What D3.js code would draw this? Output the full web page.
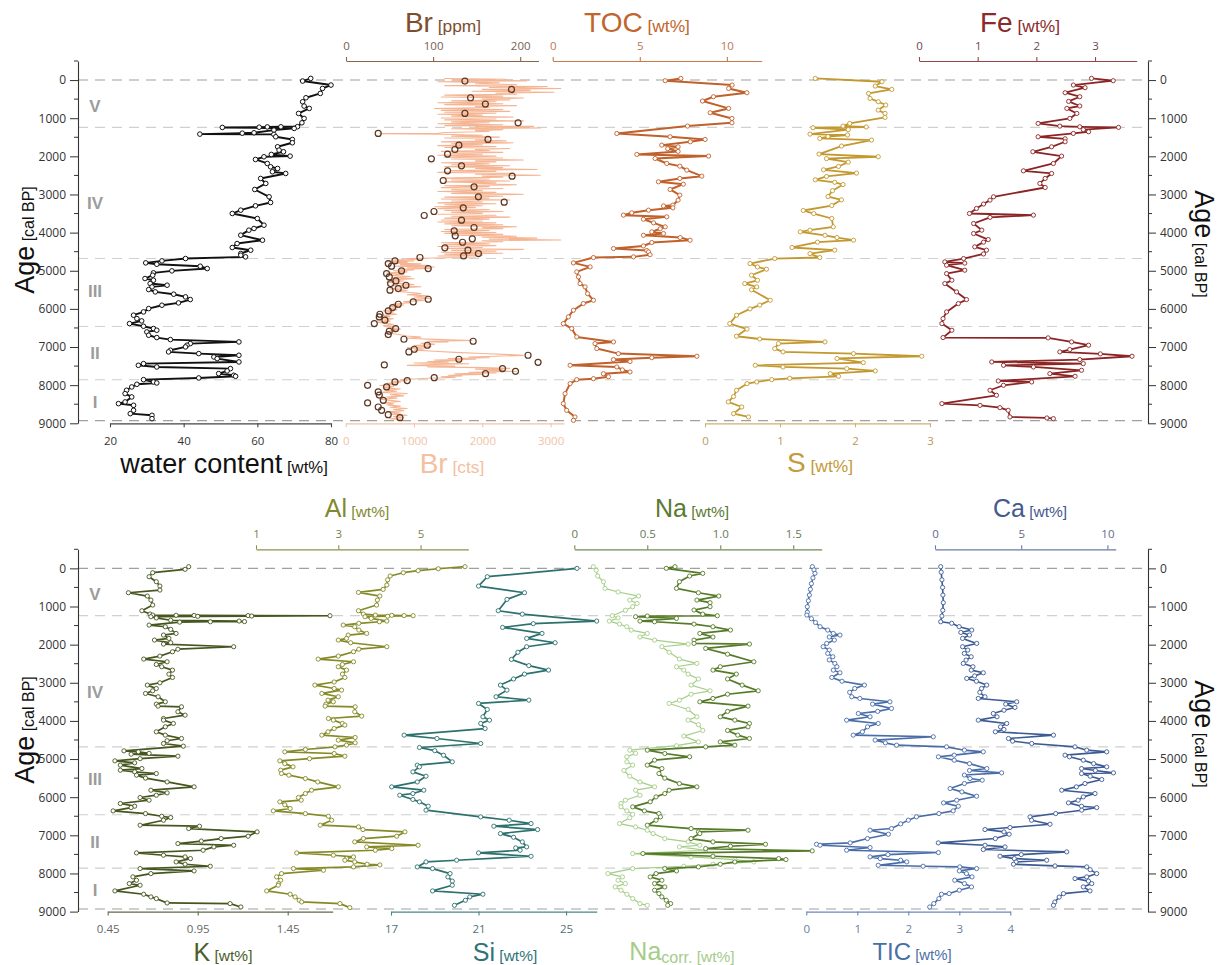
<!DOCTYPE html>
<html>
<head>
<meta charset="utf-8">
<script src="https://cdn.jsdelivr.net/npm/d3@7"></script>
<style>
  body { margin: 0; background: #fff; }
  svg { display: block; font-family: "Liberation Sans", Arial, sans-serif; }
</style>
</head>
<body>
<svg id="chart" width="1224" height="965"></svg>
<script>
// ---------- age framework ----------
const ageTicks = [0, 1000, 2000, 3000, 4000, 5000, 6000, 7000, 8000, 9000];
const ageMinorTicks = [-500, 500, 1500, 2500, 3500, 4500, 5500, 6500, 7500, 8500];
const boundaryAges = [0, 1240, 4680, 6460, 7860, 8930];
const zoneLabels = ["V", "IV", "III", "II", "I"];
const zoneMidAges = [680, 3230, 5530, 7165, 8440];

// ---------- upper panel series: [age cal BP, value] ----------
const waterContent = [
  [-44,74.5],[26,72.3],[131,80.0],[219,77.7],[350,77.1],[464,73.2],[569,72.3],[682,72.7],[743,74.1],[875,71.2],
  [1006,72.7],[1120,72.1],[1222,70.9],[1226,66.4],[1229,62.7],[1236,60.5],[1242,50.5],[1268,70.0],[1312,64.5],
  [1382,59.1],[1392,55.9],[1417,44.4],[1425,64.5],[1487,65.0],[1557,69.5],[1644,69.5],[1749,65.5],[1837,65.9],
  [1880,67.1],[1950,63.8],[1994,68.9],[2012,61.8],[2082,59.5],[2187,62.7],[2274,63.6],[2318,65.5],[2405,64.1],
  [2449,67.7],[2580,60.9],[2711,62.3],[2869,59.3],[3061,63.2],[3210,63.6],[3297,59.5],[3411,55.5],[3499,53.2],
  [3630,60.0],[3805,61.8],[3892,59.1],[3936,57.7],[4067,55.5],[4199,61.4],[4286,54.5],[4391,53.2],[4461,58.2],
  [4548,55.5],[4592,55.5],[4636,56.8],[4680,40.5],[4741,34.1],[4793,29.7],[4829,32.7],[4881,44.5],[4942,46.4],
  [5003,36.8],[5055,31.8],[5117,31.6],[5204,29.5],[5248,31.8],[5335,30.9],[5379,35.5],[5423,31.4],[5493,30.5],
  [5554,32.3],[5615,37.3],[5685,40.5],[5755,41.8],[5843,38.6],[5904,34.1],[5992,30.5],[6079,29.1],[6166,26.4],
  [6254,27.3],[6315,28.6],[6385,25.3],[6455,29.1],[6516,31.8],[6560,32.7],[6604,30.0],[6691,30.5],[6752,32.7],
  [6805,36.4],[6866,55.0],[6910,41.8],[6953,40.9],[6997,40.5],[7084,36.4],[7128,35.9],[7172,44.1],[7216,55.0],
  [7260,48.2],[7304,49.1],[7391,55.0],[7435,29.1],[7479,27.7],[7523,32.7],[7566,52.7],[7627,51.8],[7697,49.5],
  [7741,53.6],[7767,54.1],[7811,44.1],[7855,29.1],[7916,31.8],[7942,32.7],[7977,27.3],[8047,25.9],[8134,24.5],
  [8222,24.1],[8309,25.9],[8440,24.1],[8484,22.3],[8528,26.4],[8659,26.4],[8747,25.5],[8790,31.4],[8878,31.4]
];

const brPpm = [
  [26,136.5],[245,190],[463,143],[629,160],[874,136.5],[1120,197.6],[1400,37],[1557,163],[1706,129.6],[1820,125],
  [1941,116.6],[2064,98],[2248,132.6],[2379,116.6],[2519,190.7],[2633,111.6],[2799,147],[3061,152],[3201,181.6],
  [3350,134.6],[3446,101],[3551,89.8],[3674,132.6],[3866,147],[3954,124.2],[4085,125.4],[4164,145],[4252,133.8],
  [4400,113.5],[4461,140],[4549,152],[4610,135],[4653,84.9],[4741,56.2],[4811,48.5],[4881,52.3],[4942,94.4],
  [5003,63.8],[5074,46.6],[5161,49.7],[5266,57.3],[5336,51.2],[5380,68.8],[5467,60],[5510,50.5],[5747,94.4],
  [5817,77.2],[5878,60],[5966,53.5],[6053,48.5],[6140,38.9],[6210,38.2],[6297,44.7],[6385,32.5],[6516,57],
  [6586,49.7],[6673,48.5],[6796,66.5],[6848,146],[6953,93.3],[7058,78.4],[7128,72.2],[7216,209],[7321,129.6],
  [7400,220.5],[7470,44],[7566,179.7],[7636,194.6],[7698,160.2],[7803,101.3],[7881,70.3],[7916,56.2],[8003,24.8],
  [8047,46.6],[8178,37],[8260,38.2],[8397,42.8],[8467,24.8],[8572,37],[8659,40.9],[8773,48.5],[8852,61.9]
];

const brCts = [
  [-40,1450],[-20,2350],[0,1550],[20,2650],[45,1350],[70,2250],[95,1900],[120,2500],[145,1450],[170,2950],
  [195,2100],[220,3150],[245,2000],[270,2700],[295,1850],[320,3050],[345,2200],[370,2500],[395,1450],[420,2300],
  [445,1400],[470,2600],[495,2000],[520,2400],[545,1550],[570,2200],[595,1350],[620,2300],[645,1450],[670,2500],
  [695,1900],[720,2100],[745,1300],[770,2300],[795,1400],[820,2400],[845,1450],[870,2200],[895,1350],[920,2000],
  [945,1550],[970,2450],[995,1400],[1020,2200],[1045,1450],[1070,2600],[1095,1550],[1120,2100],[1145,1350],
  [1170,2300],[1195,1450],[1215,2750],[1235,1900],[1255,2850],[1275,1550],[1300,2300],[1325,1900],[1350,2100],
  [1375,1450],[1395,1350],[1405,500],[1420,1400],[1445,2000],[1470,1550],[1495,2250],[1520,1450],[1545,2100],
  [1570,1900],[1595,2350],[1620,1400],[1645,2450],[1670,1550],[1695,2000],[1720,1350],[1745,2200],[1770,1450],
  [1795,2400],[1820,1900],[1845,2100],[1870,1400],[1895,2300],[1920,1550],[1945,2000],[1970,1350],[1995,2200],
  [2020,1450],[2045,2300],[2070,1550],[2095,2600],[2120,1900],[2145,2200],[2170,1400],[2195,2100],[2220,1550],
  [2245,2400],[2270,1450],[2295,2300],[2320,1900],[2345,2800],[2370,1550],[2395,2200],[2420,1350],[2445,2400],
  [2470,1900],[2495,2850],[2520,2000],[2545,2300],[2570,1400],[2595,2100],[2620,1550],[2645,2400],[2670,1450],
  [2695,2200],[2720,1900],[2745,2500],[2770,1450],[2795,2100],[2820,1400],[2845,2300],[2870,1550],[2895,2000],
  [2920,1350],[2945,2200],[2970,1550],[2995,2600],[3020,1900],[3045,2300],[3070,1450],[3095,2100],[3120,1400],
  [3145,2400],[3170,1550],[3195,2000],[3220,1350],[3245,2200],[3270,1450],[3295,2000],[3320,1300],[3345,1900],
  [3370,1350],[3395,2100],[3420,1450],[3445,2300],[3470,1550],[3495,2000],[3520,1350],[3545,2200],[3570,1550],
  [3595,2400],[3620,1450],[3645,2100],[3670,1400],[3695,2000],[3720,1350],[3745,2200],[3770,1450],[3795,2300],
  [3820,1550],[3845,2500],[3870,2000],[3895,2300],[3920,1450],[3945,2100],[3970,1400],[3995,2200],[4020,1450],
  [4045,2300],[4070,1550],[4095,2500],[4120,2000],[4145,2800],[4170,2100],[4195,3150],[4215,2000],[4240,2300],
  [4265,1400],[4290,2100],[4315,1450],[4340,2200],[4365,1350],[4390,2000],[4415,1450],[4440,2600],[4465,1550],
  [4490,2200],[4515,1400],[4540,2300],[4565,1450],[4590,2000],[4615,1350],[4640,1900],
  [4660,1500],[4680,900],[4700,1100],[4720,700],[4740,1000],[4760,600],[4780,900],[4800,700],[4820,1100],
  [4840,800],[4860,1200],[4880,700],[4900,1300],[4920,900],[4940,1250],[4960,800],[4980,1000],[5000,700],
  [5030,900],[5060,600],[5090,850],[5120,650],[5150,950],[5180,700],[5210,1000],[5240,650],[5270,850],[5300,600],
  [5330,800],[5360,1000],[5390,700],[5420,1100],[5450,800],[5480,650],[5510,900],[5540,750],[5570,950],[5600,1100],
  [5630,900],[5660,1200],[5690,1000],[5720,1250],[5750,1000],[5780,1150],[5810,850],[5840,950],[5870,700],
  [5900,850],[5930,650],[5960,800],[5990,600],[6020,750],[6050,550],[6080,700],[6110,600],[6140,750],[6170,550],
  [6200,650],[6230,500],[6260,700],[6290,550],[6320,650],[6350,450],[6380,600],[6410,700],[6440,550],[6470,750],
  [6500,600],[6530,800],[6560,650],[6590,750],[6620,600],[6650,700],[6680,800],[6710,900],[6740,1100],[6770,900],
  [6800,1300],[6830,1850],[6850,1200],[6870,1500],[6900,1100],[6930,1300],[6960,1000],[6990,1250],[7020,900],
  [7050,1150],[7080,1000],[7110,1300],[7140,1600],[7170,2000],[7200,2400],[7220,2600],[7240,2200],[7260,1800],
  [7280,2100],[7300,1500],[7320,1900],[7340,1300],[7360,1700],[7380,1200],[7400,1500],[7420,1000],[7440,1800],
  [7460,1300],[7480,900],[7500,1600],[7520,1200],[7540,2000],[7560,2400],[7580,1900],[7600,2300],[7620,2100],
  [7640,2500],[7660,1800],[7680,2200],[7700,1600],[7720,2000],[7740,1500],[7760,1700],[7780,1400],[7800,1600],
  [7820,1200],[7840,1000],[7860,800],[7880,900],[7900,700],[7920,800],[7950,600],[7980,750],[8010,500],[8040,700],
  [8070,550],[8100,800],[8130,600],[8160,750],[8190,500],[8220,900],[8250,650],[8280,850],[8310,600],[8340,750],
  [8370,500],[8400,650],[8430,800],[8460,550],[8490,700],[8520,600],[8550,800],[8580,650],[8610,900],[8640,700],
  [8670,850],[8700,600],[8730,800],[8760,650],[8790,900],[8820,700],[8850,850],[8880,650],[8900,800]
];

const toc = [
  [-44,7.36],[17,6.46],[131,10.3],[219,10.1],[332,11.15],[437,9.23],[550,8.6],[743,10.1],[857,9.04],[1006,10.29],
  [1120,10.29],[1207,7.74],[1400,3.68],[1487,6.74],[1557,8.75],[1618,7.9],[1706,6.26],[1750,7.2],[1800,6.6],
  [1870,7.2],[1950,4.83],[1994,8.95],[2056,5.88],[2187,6.55],[2257,7.3],[2362,7.7],[2519,8.56],[2580,7.3],
  [2668,6.07],[2730,7.5],[2869,6.74],[3017,7.3],[3148,7.2],[3280,6.9],[3300,6.36],[3350,6.9],[3411,5.5],
  [3481,4.54],[3542,4.06],[3586,6.55],[3650,5.21],[3744,5.79],[3849,6.46],[3900,6.17],[3980,5.69],[4024,6.36],
  [4070,5.21],[4130,7.32],[4199,7.89],[4260,5.69],[4350,5.21],[4417,3.49],[4470,5.4],[4505,5.5],[4580,5.59],
  [4636,4.64],[4653,2.34],[4794,1.19],[4899,2.15],[5030,1.38],[5161,1.48],[5336,1.57],[5423,1.86],[5600,2.0],
  [5773,2.34],[5860,1.76],[6035,1.19],[6210,0.9],[6385,0.61],[6516,1.09],[6735,1.38],[6866,3.49],[6910,2.43],
  [7041,2.53],[7173,3.77],[7242,8.28],[7280,5.69],[7330,3.49],[7380,4.44],[7479,1.0],[7523,3.68],[7600,4.0],
  [7654,4.44],[7700,2.91],[7780,3.2],[7829,2.34],[7855,1.38],[7960,1.0],[8222,0.71],[8484,0.61],[8659,0.8],
  [8834,1.28],[8922,1.19]
];

const sulfur = [
  [-44,1.47],[44,2.36],[157,2.27],[245,2.49],[350,2.18],[481,2.2],[568,2.31],[655,2.41],[787,2.31],[875,2.4],
  [979,2.4],[1137,1.93],[1207,1.84],[1230,2.15],[1250,1.44],[1300,1.91],[1417,1.4],[1440,1.9],[1480,1.64],
  [1531,1.53],[1574,2.22],[1731,1.82],[1941,1.52],[2011,2.31],[2060,1.62],[2152,1.91],[2266,1.78],[2353,1.58],
  [2440,2.02],[2528,1.62],[2615,1.47],[2680,1.73],[2740,1.84],[2900,1.7],[3054,1.64],[3140,1.82],[3290,1.69],
  [3420,1.31],[3500,1.45],[3630,1.69],[3849,1.71],[3936,1.4],[3980,1.27],[4070,1.6],[4130,1.76],[4199,1.98],
  [4250,1.5],[4390,1.16],[4460,1.73],[4550,1.4],[4653,1.53],[4680,0.93],[4811,0.6],[4900,0.7],[4960,0.82],
  [5117,0.62],[5250,0.7],[5336,0.53],[5423,0.69],[5500,0.62],[5773,0.87],[5900,0.73],[6000,0.6],[6166,0.42],
  [6385,0.33],[6530,0.56],[6717,0.42],[6790,0.73],[6866,1.6],[6910,0.98],[7041,0.93],[7128,1.04],[7173,1.98],
  [7242,2.89],[7300,1.76],[7409,2.11],[7479,0.67],[7523,1.04],[7566,1.89],[7627,2.27],[7698,1.67],[7767,1.78],
  [7820,1.13],[7855,0.89],[7916,0.69],[7960,0.56],[8134,0.42],[8300,0.38],[8440,0.31],[8572,0.49],[8747,0.38],
  [8834,0.58]
];

const iron = [
  [-44,2.94],[17,3.31],[131,2.63],[200,2.83],[332,2.49],[437,2.74],[560,2.55],[680,2.74],[743,2.52],[875,2.69],
  [1006,2.57],[1137,2.03],[1207,2.4],[1225,2.74],[1241,3.4],[1300,2.8],[1355,2.89],[1400,2.63],[1487,2.03],
  [1540,2.49],[1618,2.49],[1750,2.26],[1880,1.94],[1994,2.43],[2187,2.29],[2380,1.78],[2449,2.26],[2580,2.15],
  [2711,2.06],[2817,2.15],[3061,1.27],[3148,1.21],[3250,1.1],[3367,0.98],[3499,0.86],[3542,1.95],[3600,1.21],
  [3761,0.93],[3936,1.07],[4024,0.93],[4182,1.18],[4250,1.1],[4374,0.95],[4460,1.15],[4560,1.1],[4680,0.76],
  [4767,0.44],[4800,0.78],[4855,0.47],[4986,0.78],[5074,0.47],[5249,0.56],[5336,0.44],[5555,0.64],[5756,0.81],
  [5860,0.67],[6079,0.47],[6254,0.41],[6385,0.39],[6560,0.56],[6752,0.41],[6760,2.2],[6866,2.6],[6953,2.89],
  [7067,2.57],[7128,2.4],[7180,3.09],[7242,3.63],[7330,2.74],[7391,1.24],[7435,2.8],[7479,1.44],[7523,1.95],
  [7610,2.77],[7698,2.23],[7767,2.66],[7890,1.35],[7916,1.92],[8003,1.44],[8134,1.21],[8265,1.32],[8484,0.39],
  [8530,1.04],[8590,1.38],[8659,1.52],[8834,1.55],[8860,2.18],[8878,2.29]
];

// ---------- lower panel series: [age cal BP, value] ----------
const potassium = [
  [-44,0.90],[26,0.88],[114,0.70],[219,0.68],[350,0.72],[464,0.74],[569,0.74],[639,0.565],[726,0.67],[831,0.69],
  [962,0.70],[1111,0.64],[1198,0.685],[1225,0.70],[1230,0.83],[1234,0.93],[1238,1.23],[1242,1.685],[1250,1.25],
  [1258,0.95],[1268,0.69],[1300,0.72],[1360,0.80],[1382,1.18],[1395,1.21],[1400,1.02],[1410,0.85],[1487,0.68],
  [1531,0.77],[1600,0.80],[1706,0.83],[1749,0.76],[1837,0.79],[1880,0.71],[1950,0.80],[1985,0.76],[2055,1.15],
  [2120,0.84],[2187,0.81],[2300,0.74],[2379,0.65],[2449,0.78],[2520,0.72],[2580,0.75],[2668,0.81],[2773,0.79],
  [2860,0.81],[3000,0.74],[3061,0.67],[3150,0.72],[3210,0.70],[3280,0.66],[3367,0.73],[3499,0.77],[3560,0.72],
  [3612,0.73],[3630,0.86],[3760,0.84],[3849,0.88],[3936,0.76],[3980,0.76],[4067,0.815],[4155,0.77],[4286,0.72],
  [4373,0.77],[4461,0.86],[4520,0.78],[4592,0.76],[4662,0.87],[4785,0.54],[4811,0.62],[4850,0.68],[4872,0.58],
  [4925,0.84],[4990,0.63],[5047,0.49],[5099,0.60],[5160,0.52],[5249,0.64],[5292,0.52],[5336,0.60],[5380,0.72],
  [5423,0.61],[5500,0.66],[5600,0.78],[5729,0.93],[5817,0.69],[5887,0.78],[5948,0.72],[6009,0.63],[6079,0.68],
  [6166,0.52],[6236,0.60],[6272,0.58],[6359,0.48],[6430,0.66],[6499,0.75],[6534,0.80],[6604,0.76],[6735,0.63],
  [6761,0.96],[6822,0.90],[6910,1.28],[7023,1.23],[7085,1.08],[7150,0.97],[7216,0.84],[7260,1.15],[7304,1.04],
  [7391,0.98],[7461,0.61],[7522,0.76],[7566,0.88],[7610,0.91],[7697,0.83],[7758,0.88],[7811,1.02],[7872,0.63],
  [7933,0.93],[8003,0.69],[8090,0.59],[8178,0.61],[8265,0.57],[8309,0.63],[8458,0.49],[8545,0.65],[8615,0.69],
  [8659,0.72],[8773,0.78],[8790,1.13],[8878,1.19]
];

const aluminium = [
  [-44,6.08],[10,5.43],[60,4.94],[114,4.58],[201,4.26],[300,4.2],[437,4.18],[551,4.09],[630,3.49],[726,4.01],
  [831,3.95],[962,3.93],[1111,3.49],[1198,3.61],[1225,3.9],[1232,4.3],[1238,4.6],[1242,4.82],[1255,4.2],
  [1268,3.65],[1312,3.8],[1382,4.18],[1400,4.0],[1440,3.5],[1487,3.12],[1531,3.4],[1618,3.5],[1706,3.69],
  [1749,3.24],[1837,3.2],[1880,3.0],[1950,3.3],[2055,4.18],[2120,3.5],[2187,3.37],[2300,3.0],[2379,2.51],
  [2449,3.37],[2520,3.1],[2580,3.0],[2668,3.2],[2773,3.1],[2860,3.16],[2980,2.9],[3061,2.43],[3150,2.9],
  [3193,3.08],[3280,2.6],[3367,3.0],[3455,2.75],[3499,2.88],[3560,2.7],[3612,2.68],[3630,3.41],[3760,3.4],
  [3875,3.57],[3936,2.76],[3980,2.88],[4067,3.1],[4111,3.16],[4200,2.9],[4286,2.75],[4373,2.6],[4435,3.41],
  [4504,3.0],[4575,3.41],[4636,3.2],[4680,2.92],[4750,2.2],[4811,1.70],[4855,2.9],[4925,3.16],[4990,2.3],
  [5047,1.58],[5120,1.7],[5205,1.9],[5292,1.6],[5379,1.62],[5423,1.8],[5511,2.2],[5600,2.5],[5729,3.0],
  [5817,2.35],[5904,2.2],[6009,2.03],[6079,2.1],[6122,1.58],[6200,1.7],[6297,1.83],[6359,1.42],[6430,2.2],
  [6499,2.76],[6604,2.84],[6735,2.56],[6779,3.49],[6849,3.6],[6910,4.62],[7023,4.42],[7085,3.61],[7172,3.4],
  [7260,4.94],[7304,3.69],[7347,4.3],[7391,3.9],[7461,1.99],[7522,2.88],[7566,3.37],[7610,3.2],[7653,3.16],
  [7697,3.4],[7758,3.7],[7777,4.01],[7828,3.37],[7872,1.91],[7916,2.64],[8003,1.62],[8090,1.5],[8178,1.6],
  [8265,1.55],[8309,1.54],[8458,1.26],[8545,1.83],[8615,1.95],[8703,2.05],[8747,2.11],[8790,3.04],[8895,3.28]
];

const silicon = [
  [0,25.5],[219,21.4],[464,21.0],[639,23.1],[814,22.3],[1111,21.9],[1200,23.0],[1382,26.4],[1450,23.5],
  [1548,22.1],[1706,23.9],[1837,23.2],[1950,24.5],[2055,23.2],[2200,22.8],[2388,22.5],[2550,23.3],[2668,24.2],
  [2773,23.1],[2900,22.6],[3061,22.0],[3193,22.3],[3367,21.8],[3455,23.3],[3542,21.0],[3700,21.4],[3892,21.2],
  [3980,21.5],[4067,21.1],[4200,21.3],[4373,17.6],[4461,19.1],[4592,21.1],[4697,18.3],[4780,19.0],[4900,19.4],
  [5073,19.8],[5160,18.2],[5205,18.3],[5336,18.0],[5450,18.6],[5600,18.2],[5729,17.03],[5817,18.5],[5904,18.0],
  [5948,17.4],[6060,18.0],[6122,18.3],[6236,18.7],[6341,18.6],[6516,21.1],[6604,22.4],[6691,23.4],[6761,21.7],
  [6849,23.7],[6954,22.0],[7050,22.6],[7172,23.0],[7304,23.2],[7330,22.7],[7391,22.9],[7461,21.0],[7549,23.4],
  [7653,20.0],[7697,18.6],[7828,18.2],[7872,18.9],[8003,19.7],[8090,19.6],[8200,19.8],[8309,19.8],[8458,18.9],
  [8545,21.2],[8615,20.6],[8703,20.4],[8835,19.9]
];

const sodium = [
  [-44,0.69],[0,0.63],[131,0.88],[201,0.79],[350,0.72],[525,0.70],[640,0.85],[726,0.99],[831,0.84],[900,0.93],
  [1006,0.93],[1093,0.82],[1200,0.88],[1242,0.98],[1250,0.50],[1268,0.42],[1312,0.70],[1382,0.45],[1400,0.55],
  [1461,0.82],[1531,0.95],[1618,1.07],[1706,0.86],[1800,0.95],[1881,0.82],[1968,0.82],[1985,1.20],[2100,0.90],
  [2250,1.05],[2449,1.23],[2580,1.0],[2668,0.95],[2773,1.11],[2900,1.05],[3061,1.15],[3210,1.26],[3300,1.05],
  [3411,0.95],[3499,0.86],[3612,1.19],[3750,1.05],[3892,1.0],[3980,1.1],[4067,1.2],[4155,1.19],[4250,1.05],
  [4373,1.12],[4461,1.2],[4550,1.0],[4636,1.1],[4680,0.9],[4767,0.50],[4855,0.62],[4941,0.79],[5029,0.55],
  [5160,0.50],[5249,0.60],[5380,0.58],[5500,0.62],[5642,0.72],[5729,0.84],[5817,0.65],[5904,0.62],[5992,0.56],
  [6122,0.52],[6254,0.40],[6359,0.48],[6429,0.58],[6516,0.59],[6604,0.56],[6735,0.50],[6822,0.80],[6866,1.19],
  [6910,0.85],[6954,0.86],[7085,0.80],[7172,0.95],[7234,1.31],[7286,1.07],[7347,0.90],[7408,1.63],[7478,0.47],
  [7549,0.95],[7610,1.40],[7636,1.45],[7697,1.10],[7758,1.0],[7828,0.85],[7872,0.62],[7933,0.70],[8003,0.56],
  [8090,0.52],[8178,0.60],[8265,0.55],[8353,0.62],[8440,0.55],[8528,0.58],[8615,0.60],[8703,0.63],[8790,0.66],
  [8835,0.64]
];

const sodiumCorr = [
  [-44,0.13],[50,0.15],[200,0.16],[350,0.2],[525,0.21],[620,0.3],[726,0.44],[830,0.38],[920,0.43],[1006,0.40],
  [1100,0.35],[1242,0.26],[1300,0.30],[1382,0.24],[1461,0.31],[1531,0.36],[1618,0.39],[1706,0.50],[1800,0.45],
  [1881,0.55],[1985,0.78],[2055,0.60],[2200,0.65],[2379,0.72],[2493,0.84],[2580,0.70],[2668,0.75],[2773,0.78],
  [2900,0.85],[3061,0.80],[3210,0.93],[3300,0.80],[3455,0.72],[3542,0.65],[3700,0.78],[3892,0.84],[3980,0.78],
  [4100,0.85],[4250,0.88],[4400,0.75],[4550,0.85],[4650,0.70],[4767,0.38],[4850,0.42],[4941,0.36],[5073,0.36],
  [5160,0.40],[5300,0.34],[5450,0.38],[5600,0.45],[5729,0.55],[5817,0.42],[5950,0.45],[6079,0.35],[6166,0.32],
  [6254,0.32],[6359,0.36],[6450,0.40],[6540,0.38],[6691,0.31],[6779,0.42],[6866,0.50],[6954,0.54],[7085,0.62],
  [7172,0.78],[7260,0.86],[7304,0.72],[7391,0.90],[7478,0.40],[7566,0.80],[7636,1.10],[7697,1.23],[7758,0.95],
  [7811,0.75],[7872,0.40],[8003,0.23],[8090,0.33],[8178,0.30],[8265,0.35],[8353,0.28],[8440,0.32],[8545,0.36],
  [8659,0.40],[8790,0.45],[8835,0.50]
];

const tic = [
  [-44,0.12],[40,0.15],[130,0.17],[250,0.13],[400,0.10],[550,0.08],[700,0.06],[850,0.04],[1006,0.02],[1150,0.02],
  [1224,0.01],[1320,0.10],[1420,0.18],[1531,0.27],[1618,0.42],[1706,0.53],[1749,0.66],[1800,0.45],[1881,0.55],
  [1968,0.40],[2055,0.33],[2143,0.45],[2230,0.42],[2318,0.52],[2400,0.45],[2493,0.56],[2580,0.60],[2668,0.53],
  [2738,0.66],[2860,0.50],[2960,0.70],[3061,1.14],[3150,0.95],[3250,0.85],[3367,0.89],[3411,1.05],[3499,1.64],
  [3560,1.30],[3674,1.67],[3750,1.40],[3805,1.02],[3892,1.25],[3980,0.79],[4067,1.41],[4155,1.20],[4286,1.10],
  [4373,0.92],[4417,2.49],[4504,1.35],[4575,1.55],[4636,1.77],[4680,2.75],[4767,3.1],[4811,3.47],[4898,2.9],
  [4941,2.59],[5030,2.9],[5120,3.2],[5249,3.54],[5300,3.2],[5362,3.83],[5420,3.1],[5511,3.21],[5554,3.45],
  [5642,3.1],[5773,2.82],[5861,3.05],[5974,3.34],[6079,2.95],[6149,2.69],[6237,2.98],[6359,2.88],[6429,2.6],
  [6516,2.16],[6604,2.0],[6700,1.85],[6822,1.67],[6866,1.25],[6971,1.61],[7085,1.2],[7198,0.86],[7234,0.20],
  [7260,0.27],[7321,1.25],[7391,0.79],[7452,2.59],[7505,1.6],[7565,1.25],[7610,1.45],[7653,1.85],[7697,1.97],
  [7784,1.41],[7811,2.29],[7828,3.01],[7872,3.34],[7933,3.0],[8003,3.14],[8090,3.25],[8178,2.91],[8265,3.1],
  [8353,3.24],[8440,3.0],[8528,2.8],[8545,2.65],[8660,2.6],[8790,2.5],[8878,2.42]
];

const calcium = [
  [-44,0.33],[100,0.36],[300,0.40],[500,0.44],[700,0.46],[900,0.48],[1100,0.45],[1250,0.40],[1400,0.33],
  [1440,0.97],[1530,1.4],[1618,2.13],[1680,1.5],[1749,2.0],[1837,1.6],[1968,2.42],[2055,1.6],[2143,1.9],
  [2230,1.7],[2318,2.1],[2406,1.8],[2493,1.64],[2580,2.2],[2668,2.1],[2738,2.8],[2820,2.3],[2886,1.84],
  [2960,2.4],[3061,3.0],[3150,2.7],[3250,2.6],[3367,2.9],[3411,2.51],[3499,4.74],[3560,4.1],[3647,4.64],
  [3720,4.0],[3805,3.38],[3892,3.6],[3980,2.51],[4067,4.16],[4155,3.8],[4225,4.0],[4286,3.5],[4373,6.87],
  [4461,4.26],[4530,4.5],[4592,5.61],[4680,8.12],[4767,8.8],[4811,9.96],[4898,7.54],[4941,7.8],[5029,8.6],
  [5120,9.2],[5205,9.96],[5249,8.5],[5300,9.3],[5362,10.35],[5380,8.5],[5450,9.0],[5537,9.67],[5642,8.7],
  [5729,8.2],[5817,7.35],[5904,9.28],[5992,8.6],[6079,8.3],[6149,7.74],[6236,8.5],[6272,9.38],[6341,8.51],
  [6429,7.0],[6516,5.51],[6604,5.6],[6709,6.67],[6796,4.35],[6849,2.9],[6910,4.0],[6971,4.3],[7085,3.5],
  [7198,0.19],[7260,2.9],[7304,4.06],[7373,2.8],[7434,7.64],[7505,5.0],[7548,3.77],[7610,4.6],[7653,6.48],
  [7700,4.7],[7758,4.55],[7802,6.96],[7828,8.8],[7900,9.0],[8003,9.38],[8090,8.8],[8134,8.12],[8200,8.9],
  [8265,9.09],[8353,8.6],[8458,8.99],[8528,7.45],[8620,7.2],[8750,6.95],[8835,6.87]
];

// ---------- axis tick values and labels ----------
const waterTicks = [20, 40, 60, 80];
const brPpmTicks = [0, 100, 200];
const brCtsTicks = [0, 1000, 2000, 3000];
const tocTicks = [0, 5, 10];
const sulfurTicks = [0, 1, 2, 3];
const ironTicks = [0, 1, 2, 3];
const potassiumTicks = [0.45, 0.95, 1.45];
const potassiumLabels = ["0.45", "0.95", "1.45"];
const aluminiumTicks = [1, 3, 5];
const siliconTicks = [17, 21, 25];
const sodiumTicks = [0, 0.5, 1.0, 1.5];
const sodiumLabels = ["0", "0.5", "1.0", "1.5"];
const ticTicks = [0, 1, 2, 3, 4];
const calciumTicks = [0, 5, 10];

// ---------- drawing ----------
const svg = d3.select("#chart");
svg.append("rect").attr("width", 1224).attr("height", 965).attr("fill", "#fff");

const TICK_FONT = "'Open Sans', 'DejaVu Sans', sans-serif";
const AXIS_LEFT = 78, AXIS_RIGHT = 1148;

const panels = [
  { y: d3.scaleLinear().domain([-500, 9000]).range([61, 423.3]), labelY: 240 },
  { y: d3.scaleLinear().domain([-500, 9000]).range([549.3, 911.6]), labelY: 730 }
];

function drawFrame(p) {
  const y = p.y;
  const g = svg.append("g");
  // unit boundaries
  g.selectAll("line.bound").data(boundaryAges).join("line")
    .attr("x1", AXIS_LEFT).attr("x2", AXIS_RIGHT)
    .attr("y1", d => y(d)).attr("y2", d => y(d))
    .attr("stroke", (d, i) => (i === 0 || i === boundaryAges.length - 1) ? "#a0a0a0" : "#d0d0d0")
    .attr("stroke-width", 1.1).attr("stroke-dasharray", "10,7");
  // zone labels
  g.selectAll("text.zone").data(zoneLabels).join("text")
    .attr("x", 95).attr("y", (d, i) => y(zoneMidAges[i]) + 6)
    .attr("text-anchor", "middle").attr("font-size", 17).attr("font-weight", "bold")
    .attr("fill", "#9c9c9c").text(d => d);

  const styleAxis = (a) => {
    a.select(".domain").attr("stroke", "#333").attr("stroke-width", 1.1);
    a.selectAll(".tick line").attr("stroke", "#333");
    a.selectAll(".tick text").attr("fill", "#333").attr("font-size", 12).attr("font-family", TICK_FONT);
  };
  const left = svg.append("g").attr("transform", `translate(${AXIS_LEFT},0)`)
    .call(d3.axisLeft(y).tickValues(ageTicks).tickSize(8).tickSizeOuter(0).tickPadding(4).tickFormat(d3.format("d")));
  styleAxis(left);
  left.selectAll("line.minor").data(ageMinorTicks).join("line").attr("class", "minor")
    .attr("x1", -4).attr("x2", 0).attr("y1", d => y(d)).attr("y2", d => y(d)).attr("stroke", "#333");
  const right = svg.append("g").attr("transform", `translate(${AXIS_RIGHT},0)`)
    .call(d3.axisRight(y).tickValues(ageTicks).tickSize(8).tickSizeOuter(0).tickPadding(4).tickFormat(d3.format("d")));
  styleAxis(right);
  right.selectAll("line.minor").data(ageMinorTicks).join("line").attr("class", "minor")
    .attr("x1", 0).attr("x2", 4).attr("y1", d => y(d)).attr("y2", d => y(d)).attr("stroke", "#333");

  // Age titles
  const lt = svg.append("text").attr("transform", `translate(34,${p.labelY}) rotate(-90)`)
    .attr("text-anchor", "middle").attr("fill", "#111");
  lt.append("tspan").attr("font-size", 27).text("Age");
  lt.append("tspan").attr("font-size", 16).text(" [cal BP]");
  const rt = svg.append("text").attr("transform", `translate(1195,${p.labelY + 4}) rotate(90)`)
    .attr("text-anchor", "middle").attr("fill", "#111");
  rt.append("tspan").attr("font-size", 27).text("Age");
  rt.append("tspan").attr("font-size", 16).text(" [cal BP]");
}

function drawAxis(p, s, x) {
  const top = s.axis === "top";
  const yPos = top ? p.y.range()[0] : p.y.range()[1];
  const ax = (top ? d3.axisTop(x) : d3.axisBottom(x))
    .tickValues(s.ticks).tickSize(4).tickSizeOuter(0).tickPadding(top ? 7 : 9.5)
    .tickFormat((d, i) => s.labels ? s.labels[i] : String(d));
  const g = svg.append("g").attr("transform", `translate(0,${yPos})`).call(ax);
  g.select(".domain").attr("stroke", s.axisColor).attr("stroke-width", 1.2);
  g.selectAll(".tick line").attr("stroke", s.axisColor).attr("stroke-width", 1.1);
  g.selectAll(".tick text").attr("fill", s.labelColor || s.axisColor)
    .attr("font-size", 11.5).attr("font-family", TICK_FONT);
}

function drawSeries(p, s) {
  const x = d3.scaleLinear().domain(s.domain).range(s.range);
  const g = svg.append("g");
  if (s.lineWidth) {
    const line = d3.line().x(d => x(d[1])).y(d => p.y(d[0]));
    g.append("path").datum(s.data).attr("d", line)
      .attr("fill", "none").attr("stroke", s.color).attr("stroke-width", s.lineWidth)
      .attr("stroke-linejoin", "round").attr("stroke-linecap", "round");
  }
  if (s.marker) {
    g.selectAll("circle").data(s.data).join("circle")
      .attr("cx", d => x(d[1])).attr("cy", d => p.y(d[0])).attr("r", s.marker)
      .attr("fill", s.markerFill || "#fff").attr("stroke", s.markerStroke || s.color)
      .attr("stroke-width", s.markerWidth || 0.9);
  }
  if (s.ticks) drawAxis(p, s, x);
}

function drawTitle(t) {
  const el = svg.append("text").attr("x", t.x).attr("y", t.y)
    .attr("text-anchor", "middle").attr("fill", t.color);
  el.append("tspan").attr("font-size", t.size).text(t.main);
  if (t.sub) el.append("tspan").attr("font-size", t.size * 0.64).attr("dy", 3).text(t.sub);
  el.append("tspan").attr("font-size", t.size * 0.62).attr("dy", t.sub ? -1 : 0).text(" " + t.unit);
}

drawFrame(panels[0]);
drawFrame(panels[1]);

// upper panel
const upperSeries = [
  { data: brCts, domain: [0, 3196], range: [345.7, 564], axis: "bottom", ticks: brCtsTicks,
    color: "#f5b593", lineWidth: 1.1, axisColor: "#f1c3a6" },
  { data: brPpm, domain: [0, 221], range: [346, 538.5], axis: "top", ticks: brPpmTicks,
    color: "#5b3824", marker: 3, markerFill: "none", markerWidth: 1.2, axisColor: "#8d6548", labelColor: "#7a6050" },
  { data: waterContent, domain: [20, 80], range: [110, 331], axis: "bottom", ticks: waterTicks,
    color: "#111", lineWidth: 1.9, marker: 2.3, markerWidth: 1, axisColor: "#444", labelColor: "#333" },
  { data: toc, domain: [0, 12], range: [552.7, 761.7], axis: "top", ticks: tocTicks,
    color: "#c0602a", lineWidth: 2, marker: 2.1, axisColor: "#c77a45", labelColor: "#b97850" },
  { data: sulfur, domain: [0, 3], range: [705, 930], axis: "bottom", ticks: sulfurTicks,
    color: "#c3982f", lineWidth: 1.8, marker: 2.1, axisColor: "#cfb070", labelColor: "#b89a5a" },
  { data: iron, domain: [0, 3.71], range: [919, 1136.7], axis: "top", ticks: ironTicks,
    color: "#8b2424", lineWidth: 1.8, marker: 2.1, axisColor: "#944545", labelColor: "#6e4a4a" }
];
upperSeries.forEach(s => drawSeries(panels[0], s));

// lower panel
const lowerSeries = [
  { data: potassium, domain: [0.45, 1.7], range: [107.7, 332.7], axis: "bottom", ticks: potassiumTicks,
    labels: potassiumLabels, color: "#45561e", lineWidth: 1.7, marker: 2.1, axisColor: "#5d6b4c", labelColor: "#666" },
  { data: aluminium, domain: [1, 6.16], range: [256, 468.3], axis: "top", ticks: aluminiumTicks,
    color: "#858a26", lineWidth: 1.7, marker: 2.1, axisColor: "#8c8f4c", labelColor: "#7d7f55" },
  { data: silicon, domain: [17, 26.4], range: [391, 596.7], axis: "bottom", ticks: siliconTicks,
    color: "#2c716e", lineWidth: 1.7, marker: 2.1, axisColor: "#4a8388", labelColor: "#4f7477" },
  { data: sodiumCorr, domain: [0, 1.695], range: [574.3, 821.7],
    color: "#a5cd87", lineWidth: 1.2, marker: 2.1 },
  { data: sodium, domain: [0, 1.695], range: [574.3, 821.7], axis: "top", ticks: sodiumTicks,
    labels: sodiumLabels, color: "#557a28", lineWidth: 1.7, marker: 2.1, axisColor: "#6f8a57", labelColor: "#667a5a" },
  { data: tic, domain: [0, 4], range: [806.3, 1010.3], axis: "bottom", ticks: ticTicks,
    color: "#4a6da8", lineWidth: 1.6, marker: 2.1, axisColor: "#6a87b8", labelColor: "#6a7ea0" },
  { data: calcium, domain: [0, 10.48], range: [935, 1115.7], axis: "top", ticks: calciumTicks,
    color: "#3c5a94", lineWidth: 1.6, marker: 2.1, axisColor: "#6a7aa5", labelColor: "#5f6a8a" }
];
lowerSeries.forEach(s => drawSeries(panels[1], s));

// titles
[
  { main: "Br", unit: "[ppm]", x: 443, y: 32, size: 28, color: "#7d4d30" },
  { main: "TOC", unit: "[wt%]", x: 637, y: 32, size: 28, color: "#c0652d" },
  { main: "Fe", unit: "[wt%]", x: 1020, y: 32, size: 28, color: "#8b2a2a" },
  { main: "water content", unit: "[wt%]", x: 224, y: 473, size: 27, color: "#111" },
  { main: "Br", unit: "[cts]", x: 452, y: 473, size: 28, color: "#f3c0a0" },
  { main: "S", unit: "[wt%]", x: 820, y: 472, size: 28, color: "#c49a3a" },
  { main: "Al", unit: "[wt%]", x: 357, y: 517, size: 25, color: "#7f8a2e" },
  { main: "Na", unit: "[wt%]", x: 692, y: 517, size: 25, color: "#5a7a30" },
  { main: "Ca", unit: "[wt%]", x: 1030, y: 517, size: 25, color: "#46598f" },
  { main: "K", unit: "[wt%]", x: 223, y: 961, size: 25, color: "#4b5e2a" },
  { main: "Si", unit: "[wt%]", x: 505, y: 961, size: 25, color: "#2f7477" },
  { main: "Na", sub: "corr.", unit: "[wt%]", x: 682, y: 960, size: 25, color: "#a6cc8a" },
  { main: "TIC", unit: "[wt%]", x: 912, y: 960, size: 24, color: "#4a6fa5" }
].forEach(drawTitle);
</script>
</body>
</html>
